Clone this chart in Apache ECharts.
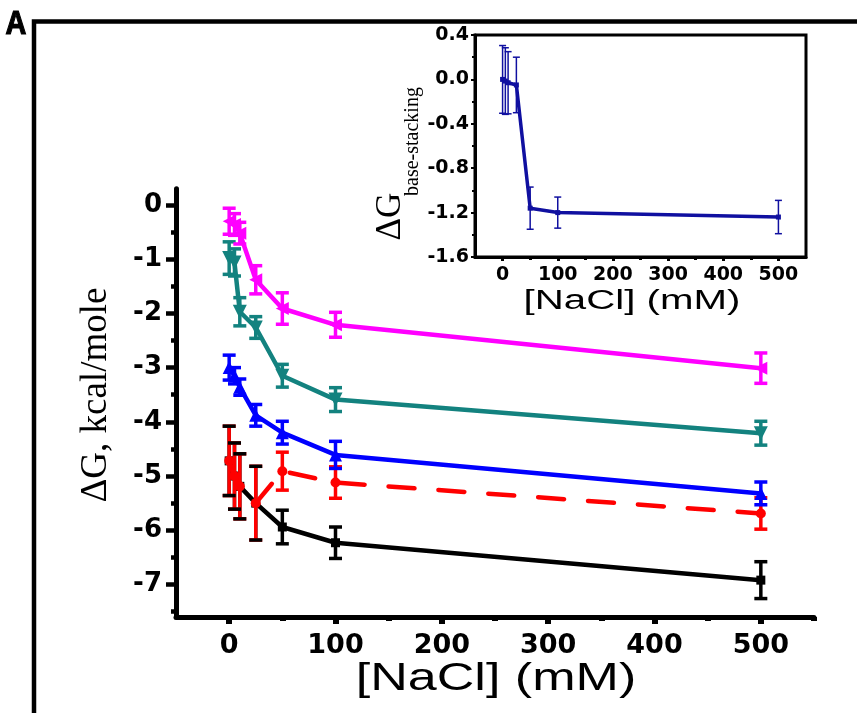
<!DOCTYPE html>
<html>
<head>
<meta charset="utf-8">
<script src="https://cdn.jsdelivr.net/npm/echarts@6/dist/echarts.min.js"></script>
<style>html,body{margin:0;padding:0;background:#fff}#c{width:857px;height:713px}</style>
</head>
<body>
<div id="c"></div>
<script>
// ---------- data ----------
const conc = [0, 5, 10, 25, 50, 100, 500];           // [NaCl] (mM)
const gMagenta = [-0.30, -0.36, -0.52, -1.38, -1.91, -2.21, -3.01];
const eMagenta = [0.24, 0.20, 0.20, 0.26, 0.29, 0.23, 0.28];
const gTeal = [-0.98, -1.06, -1.97, -2.26, -3.15, -3.59, -4.21];
const eTeal = [0.30, 0.25, 0.26, 0.20, 0.21, 0.22, 0.22];
const gBlue = [-3.00, -3.15, -3.36, -3.88, -4.20, -4.61, -5.32];
const eBlue = [0.23, 0.15, 0.15, 0.20, 0.21, 0.25, 0.21];
const gRed = [-4.72, -5.00, -5.19, -5.50, -4.91, -5.12, -5.69];
const eRed = [0.64, 0.61, 0.60, 0.68, 0.35, 0.29, 0.29];
const gBlack = [-4.72, -5.00, -5.19, -5.50, -5.94, -6.23, -6.92];
const eBlack = [0.64, 0.61, 0.60, 0.68, 0.31, 0.29, 0.34];

const insetConc = [0, 5, 10, 25, 50, 100, 500];
const gStack = [0.00, -0.015, -0.03, -0.05, -1.16, -1.20, -1.24];
const eStack = [0.305, 0.30, 0.28, 0.25, 0.19, 0.14, 0.15];

// tick values
const xMajor = [0, 100, 200, 300, 400, 500];
const xMinor = [50, 150, 250, 350, 450, 550];
const yMajor = [-7, -6, -5, -4, -3, -2, -1, 0];
const yMinor = [-7.5, -6.5, -5.5, -4.5, -3.5, -2.5, -1.5, -0.5];
const ixMajor = [0, 100, 200, 300, 400, 500];
const ixMinor = [50, 150, 250, 350, 450];
const iyMajor = [-1.6, -1.2, -0.8, -0.4, 0, 0.4];
const iyMinor = [-1.4, -1.0, -0.6, -0.2, 0.2];

// ---------- helpers ----------
function pts(xs, ys) { return xs.map((x, i) => [x, ys[i]]); }
function errSeries(xs, ys, es, color, part, z, capW, stemW, capLW, axisIdx) {
  return {
    type: 'custom', xAxisIndex: axisIdx, yAxisIndex: axisIdx, z: z, silent: true,
    encode: { x: 0, y: [1, 2] },
    data: xs.map((x, i) => [x, ys[i] - es[i], ys[i] + es[i]]),
    renderItem: function (params, api) {
      const lo = api.coord([api.value(0), api.value(1)]);
      const hi = api.coord([api.value(0), api.value(2)]);
      const ch = [];
      if (part !== 'cap') {
        ch.push({ type: 'line', shape: { x1: lo[0], y1: lo[1], x2: hi[0], y2: hi[1] },
          style: { stroke: color, lineWidth: stemW } });
      }
      if (part !== 'stem') {
        [lo, hi].forEach(p => ch.push({ type: 'line',
          shape: { x1: p[0] - capW / 2, y1: p[1], x2: p[0] + capW / 2, y2: p[1] },
          style: { stroke: color, lineWidth: capLW } }));
      }
      return { type: 'group', children: ch };
    }
  };
}
function lineSeries(xs, ys, color, symbol, size, rot, z, dashed, axisIdx, lw) {
  return {
    type: 'line', xAxisIndex: axisIdx, yAxisIndex: axisIdx, z: z,
    data: pts(xs, ys), symbol: symbol, symbolSize: size, symbolRotate: rot,
    showSymbol: true, silent: true,
    lineStyle: { color: color, width: lw, type: dashed ? [26, 24] : 'solid', cap: 'round', join: 'round' },
    itemStyle: { color: color, borderWidth: 0 }
  };
}

const labelBold = { fontFamily: 'DejaVu Sans', fontWeight: 'bold', color: '#000' };
function txt(text, x, y, family, size, weight, opts) {
  return Object.assign({ type: 'text', z: 10, x: x, y: y, silent: true,
    style: { text: text, fill: '#000', fontFamily: family, fontSize: size, fontWeight: weight,
      align: 'center', verticalAlign: 'middle', textAlign: 'center', textVerticalAlign: 'middle' } }, opts || {});
}

const chart = echarts.init(document.getElementById('c'), null, { renderer: 'canvas' });
chart.setOption({
  animation: false,
  backgroundColor: '#fff',
  grid: [
    { left: 176, top: 188.7, width: 638, height: 428.3, outerBoundsMode: 'none', containLabel: false },
    { left: 475, top: 35, width: 331, height: 222, show: true, borderColor: '#000', borderWidth: 3,
      backgroundColor: '#fff', outerBoundsMode: 'none', containLabel: false }
  ],
  xAxis: [
    { gridIndex: 0, type: 'value', min: -50, max: 550, position: 'bottom',
      axisLine: { show: true, onZero: false, lineStyle: { color: '#000', width: 5 } },
      axisTick: { show: true, customValues: xMajor, length: 7, lineStyle: { color: '#000', width: 6 } },
      axisLabel: Object.assign({ customValues: xMajor, fontSize: 27, margin: 15 }, labelBold),
      splitLine: { show: false } },
    { gridIndex: 0, type: 'value', min: -50, max: 550, position: 'bottom', offset: 0,
      axisLine: { show: false, onZero: false },
      axisTick: { show: true, customValues: xMinor, length: 4, lineStyle: { color: '#000', width: 6 } },
      axisLabel: { show: false }, splitLine: { show: false } },
    { gridIndex: 1, type: 'value', min: -50, max: 550, position: 'bottom',
      axisLine: { show: true, onZero: false, lineStyle: { color: '#000', width: 3 } },
      axisTick: { show: true, customValues: ixMajor, length: 4, lineStyle: { color: '#000', width: 3 } },
      axisLabel: Object.assign({ customValues: ixMajor, fontSize: 19, margin: 9 }, labelBold),
      splitLine: { show: false } },
    { gridIndex: 1, type: 'value', min: -50, max: 550, position: 'bottom', offset: 0,
      axisLine: { show: false, onZero: false },
      axisTick: { show: true, customValues: ixMinor, length: 3, lineStyle: { color: '#000', width: 3 } },
      axisLabel: { show: false }, splitLine: { show: false } }
  ],
  yAxis: [
    { gridIndex: 0, type: 'value', min: -7.6, max: 0.3, position: 'left',
      axisLine: { show: true, onZero: false, lineStyle: { color: '#000', width: 5 } },
      axisTick: { show: true, customValues: yMajor, length: 10, lineStyle: { color: '#000', width: 4.5 } },
      axisLabel: Object.assign({ customValues: yMajor, fontSize: 26, margin: 14 }, labelBold),
      splitLine: { show: false } },
    { gridIndex: 0, type: 'value', min: -7.6, max: 0.3, position: 'left', offset: 0,
      axisLine: { show: false, onZero: false },
      axisTick: { show: true, customValues: yMinor, length: 5, lineStyle: { color: '#000', width: 4.5 } },
      axisLabel: { show: false }, splitLine: { show: false } },
    { gridIndex: 1, type: 'value', min: -1.6, max: 0.4, position: 'left',
      axisLine: { show: true, onZero: false, lineStyle: { color: '#000', width: 3 } },
      axisTick: { show: true, customValues: iyMajor, length: 4, lineStyle: { color: '#000', width: 2 } },
      axisLabel: Object.assign({ customValues: iyMajor, fontSize: 19, margin: 6,
        formatter: v => (Math.abs(v) < 1e-9 ? 0 : v).toFixed(1) }, labelBold),
      splitLine: { show: false } },
    { gridIndex: 1, type: 'value', min: -1.6, max: 0.4, position: 'left', offset: 0,
      axisLine: { show: false, onZero: false },
      axisTick: { show: true, customValues: iyMinor, length: 3, lineStyle: { color: '#000', width: 2 } },
      axisLabel: { show: false }, splitLine: { show: false } }
  ],
  series: [
    // black (bottom), red dashed on top of it
    errSeries(conc, gBlack, eBlack, '#000000', 'stem', 2, 13, 3.5, 3.5, 0),
    lineSeries(conc, gBlack, '#000000', 'rect', 9, 0, 2, false, 0, 4.5),
    errSeries(conc, gRed, eRed, '#ff0000', 'stem', 3, 13, 3.5, 3.5, 0),
    errSeries(conc, gRed, eRed, '#ff0000', 'cap', 3, 13, 3.5, 3.5, 0),
    lineSeries(conc, gRed, '#ff0000', 'circle', 10, 0, 3, true, 0, 4.5),
    errSeries(conc, gBlack, eBlack, '#000000', 'cap', 4, 13, 3.5, 3.5, 0),
    // blue
    errSeries(conc, gBlue, eBlue, '#0000ff', 'both', 3, 13, 3.5, 3.5, 0),
    lineSeries(conc, gBlue, '#0000ff', 'triangle', 13, 0, 3, false, 0, 4.5),
    // teal
    errSeries(conc, gTeal, eTeal, '#13827f', 'both', 3, 13, 3.5, 3.5, 0),
    lineSeries(conc, gTeal, '#13827f', 'triangle', 14, 180, 3, false, 0, 4.5),
    // magenta
    errSeries(conc, gMagenta, eMagenta, '#ff00ff', 'both', 3, 13, 3.5, 3.5, 0),
    lineSeries(conc, gMagenta, '#ff00ff', 'triangle', 13, 90, 3, false, 0, 4.5),
    // inset
    errSeries(insetConc, gStack, eStack, '#1010a0', 'both', 5, 7, 1.5, 1.5, 2),
    lineSeries(insetConc, gStack, '#1010a0', 'rect', 5, 0, 5, false, 2, 3.5)
  ],
  graphic: [
    { type: 'rect', z: 0, silent: true, shape: { x: 34, y: 21.5, width: 900, height: 800 },
      style: { fill: 'none', stroke: '#000', lineWidth: 4.5 } },
    txt('A', 16, 25, 'Liberation Sans', 34, 900, { scaleX: 0.85,
      style: { text: 'A', fill: '#000', stroke: '#000', lineWidth: 1.2, fontFamily: 'Liberation Sans',
        fontSize: 34, fontWeight: 'bold', align: 'center', verticalAlign: 'middle',
        textAlign: 'center', textVerticalAlign: 'middle' } }),
    txt('[NaCl] (mM)', 496, 680, 'Liberation Sans', 38, 'normal', { scaleX: 1.37 }),
    txt('ΔG, kcal/mole', 96, 395, 'Liberation Serif', 37, 'normal', { rotation: Math.PI / 2 }),
    txt('[NaCl] (mM)', 632, 302, 'Liberation Sans', 27, 'normal', { scaleX: 1.49 }),
    txt('ΔG', 391, 216.5, 'Liberation Serif', 35, 'normal', { rotation: Math.PI / 2 }),
    txt('base-stacking', 413, 141.5, 'Liberation Serif', 20, 'normal', { rotation: Math.PI / 2 })
  ]
});
</script>
</body>
</html>
